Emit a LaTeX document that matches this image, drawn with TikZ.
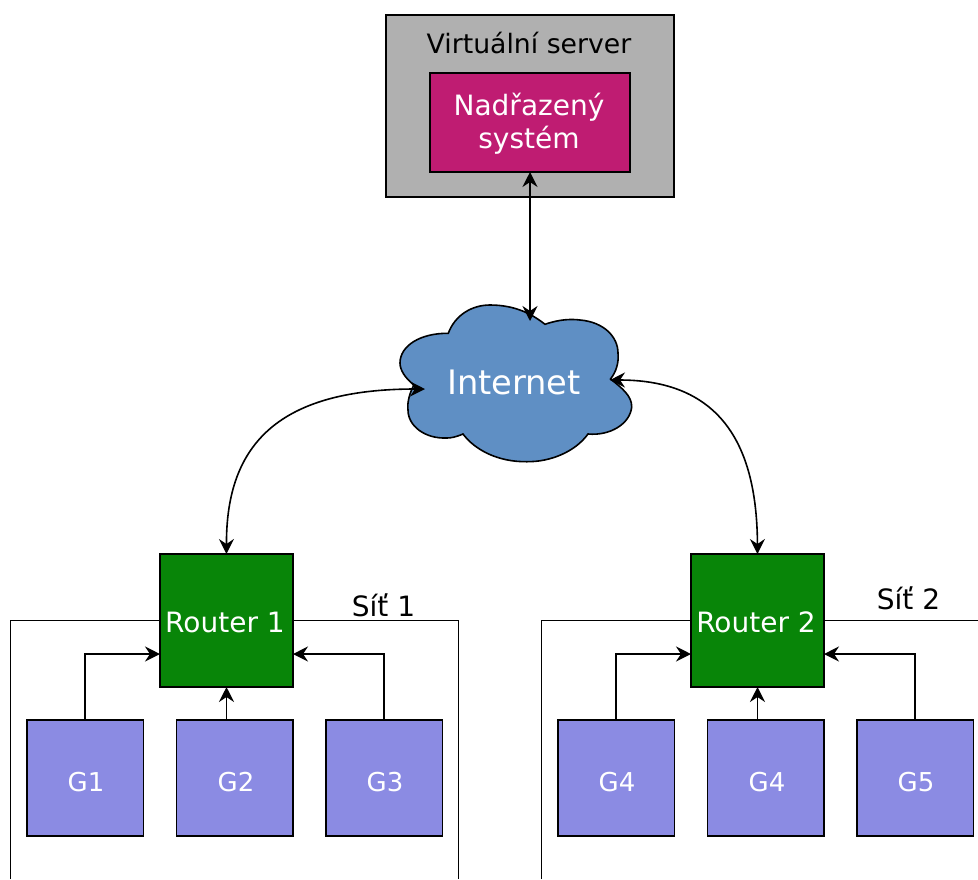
\documentclass[tikz,border=0pt]{standalone}
\usepackage{fontspec}
\setmainfont{DejaVu Sans}
\usetikzlibrary{arrows.meta}
\definecolor{srv}{HTML}{B0B0B0}
\definecolor{nad}{HTML}{BF1C72}
\definecolor{cloudc}{HTML}{5F8FC4}
\definecolor{rout}{HTML}{088508}
\definecolor{gen}{HTML}{8B8BE3}
\tikzset{
  x=1pt,y=-1pt,
  tip/.style={-{Stealth[length=15pt,width=15pt,inset=5pt]}},
  dtip/.style={{Stealth[length=15pt,width=15pt,inset=5pt]}-{Stealth[length=15pt,width=15pt,inset=5pt]}},
  box/.style={draw=black,inner sep=0pt,outer sep=0pt,align=center},
  routerbox/.style={box,fill=rout,minimum width=133pt,minimum height=133pt},
  genbox/.style={box,fill=gen,minimum width=116.5pt,minimum height=116pt},
  lbl/.style={inner sep=0pt,font=\fontsize{28}{33}\selectfont},
  rtxt/.style={lbl,text=white,align=center},
  gtxt/.style={inner sep=0pt,text=white,font=\fontsize{26}{32}\selectfont}
}
\begin{document}
\begin{tikzpicture}[line width=1.6pt]
\useasboundingbox (0,0) rectangle (978,879);
% server
\node[box,fill=srv,minimum width=288pt,minimum height=182pt] (server) at (530,106) {};
\node[lbl,font=\fontsize{26.7}{32}\selectfont] (servertxt) at (529,43) {Virtuální server};
\node[box,fill=nad,minimum width=200pt,minimum height=99pt] (nadr) at (530,122.5) {};
\node[rtxt] (nadrtxt) at (529,124) {Nadřazený\\systém};
% networks
\draw (10.5,879) -- (10.5,620.5) -- (458.5,620.5) -- (458.5,879);
\draw (541.5,879) -- (541.5,620.5) -- (978,620.5);
\node[lbl] (sit1) at (383.5,605) {Síť 1};
\node[lbl] (sit2) at (908.5,598) {Síť 2};
% cloud
\draw[fill=cloudc] (448.3,333.3)
  .. controls (455,315) and (472,305) .. (490,305)
  .. controls (515,305) and (532,314) .. (545,324.3)
  .. controls (560,319) and (572,319) .. (580,320)
  .. controls (604,322) and (618,337) .. (618,353)
  .. controls (619,363) and (616,372) .. (610.5,379)
  .. controls (622,388) and (632,396) .. (631.7,407)
  .. controls (630,424) and (610,436) .. (588,434)
  .. controls (575,452) and (550,462) .. (526.7,461.7)
  .. controls (498,462) and (475,450) .. (463,434)
  .. controls (456,437) and (451,438) .. (447,438)
  .. controls (425,439) and (408,426) .. (408,410)
  .. controls (407,402) and (410,392) .. (414,385)
  .. controls (405,378) and (400,370) .. (400,363)
  .. controls (400,346) and (420,333) .. (448.3,333.3) -- cycle;
\node[font=\fontsize{33.7}{40}\selectfont,text=white,inner sep=0pt] (inet) at (514,382) {Internet};
\coordinate (ctop) at (530,321);
\coordinate (cleft) at (425,389);
\coordinate (cright) at (610,380);
% routers
\node[routerbox] (r1) at (226.5,620.5) {};
\node[routerbox] (r2) at (757.5,620.5) {};
\node[rtxt] (r1txt) at (225,622) {Router 1};
\node[rtxt] (r2txt) at (756,622) {Router 2};
% gateways
\node[genbox] (g1) at (85.25,778) {};
\node[genbox] (g2) at (234.75,778) {};
\node[genbox] (g3) at (384.25,778) {};
\node[genbox] (g4) at (616.25,778) {};
\node[genbox] (g4b) at (765.75,778) {};
\node[genbox] (g5) at (915.25,778) {};
\node[gtxt] (g1txt) at (86,782) {G1};
\node[gtxt] (g2txt) at (236,782) {G2};
\node[gtxt] (g3txt) at (385,782) {G3};
\node[gtxt] (g4txt) at (617,782) {G4};
\node[gtxt] (g4btxt) at (767,782) {G4};
\node[gtxt] (g5txt) at (916,782) {G5};
% connectors
\draw[dtip] (nadr.south) -- (ctop);
\draw[dtip] (cleft) .. controls (280,389) and (226,443) .. (r1.north);
\draw[dtip] (cright) .. controls (728,380) and (757,455) .. (r2.north);
\draw[tip] (g1.north) |- (r1.west |- 0,654);
\draw[tip] (g3.north) |- (r1.east |- 0,654);
\draw[tip] (r1.south |- g2.north) -- (r1.south);
\draw[tip] (g4.north) |- (r2.west |- 0,654);
\draw[tip] (g5.north) |- (r2.east |- 0,654);
\draw[tip] (r2.south |- g4b.north) -- (r2.south);
\end{tikzpicture}
\end{document}
